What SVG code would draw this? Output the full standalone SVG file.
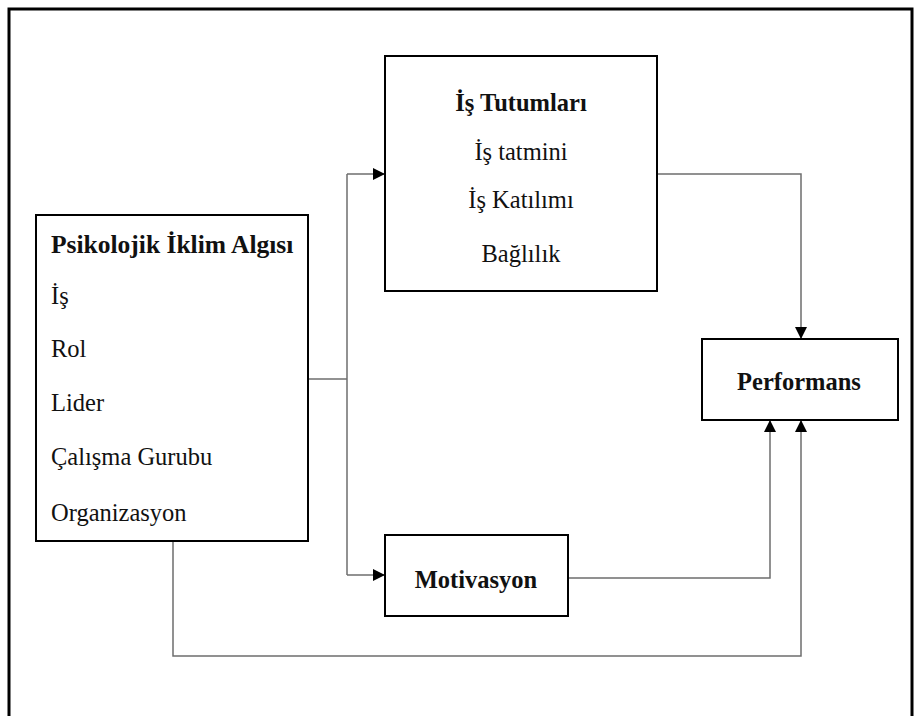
<svg xmlns="http://www.w3.org/2000/svg" width="922" height="716" viewBox="0 0 922 716">
<defs>
<marker id="arr" markerWidth="12" markerHeight="12" refX="10" refY="5" orient="auto" markerUnits="userSpaceOnUse" viewBox="0 0 10 10">
<path d="M0,0 L10,5 L0,10 z" fill="#000"/>
</marker>
<style>
.box{fill:#fff;stroke:#000;stroke-width:2}
.t{font-family:"Liberation Serif","Times New Roman",serif;font-size:24.5px;fill:#111}
.b{font-weight:bold}
.c{fill:none;stroke:#6e6e6e;stroke-width:1.5}
</style>
</defs>
<rect x="0" y="0" width="922" height="716" fill="#fff"/>
<rect x="9" y="9" width="903" height="712" fill="none" stroke="#000" stroke-width="3"/>
<g id="connectors">
<polyline class="c" points="308,379 347,379"/>
<polyline class="c" points="347,174 347,575"/>
<polyline class="c" points="347,174 385,174" marker-end="url(#arr)"/>
<polyline class="c" points="347,575 385,575" marker-end="url(#arr)"/>
<polyline class="c" points="657,174 801,174 801,339" marker-end="url(#arr)"/>
<polyline class="c" points="568,578 770,578 770,420" marker-end="url(#arr)"/>
<polyline class="c" points="173,542 173,656 801,656 801,420" marker-end="url(#arr)"/>
</g>
<g id="is-tutumlari">
<rect class="box" x="385" y="56" width="272" height="235"/>
<text class="t b" x="521" y="111" text-anchor="middle">İş Tutumları</text>
<text class="t" x="521" y="160" text-anchor="middle">İş tatmini</text>
<text class="t" x="521" y="208" text-anchor="middle">İş Katılımı</text>
<text class="t" x="521" y="262" text-anchor="middle">Bağlılık</text>
</g>
<g id="psikolojik">
<rect class="box" x="36" y="215" width="272" height="326"/>
<text class="t b" x="51" y="253" style="font-size:25.5px">Psikolojik İklim Algısı</text>
<text class="t" x="51" y="304">İş</text>
<text class="t" x="51" y="357">Rol</text>
<text class="t" x="51" y="411">Lider</text>
<text class="t" x="51" y="465">Çalışma Gurubu</text>
<text class="t" x="51" y="521">Organizasyon</text>
</g>
<g id="performans">
<rect class="box" x="702" y="339" width="196" height="81"/>
<text class="t b" x="799" y="390" text-anchor="middle">Performans</text>
</g>
<g id="motivasyon">
<rect class="box" x="385" y="535" width="183" height="81"/>
<text class="t b" x="476" y="588" text-anchor="middle">Motivasyon</text>
</g>
</svg>
